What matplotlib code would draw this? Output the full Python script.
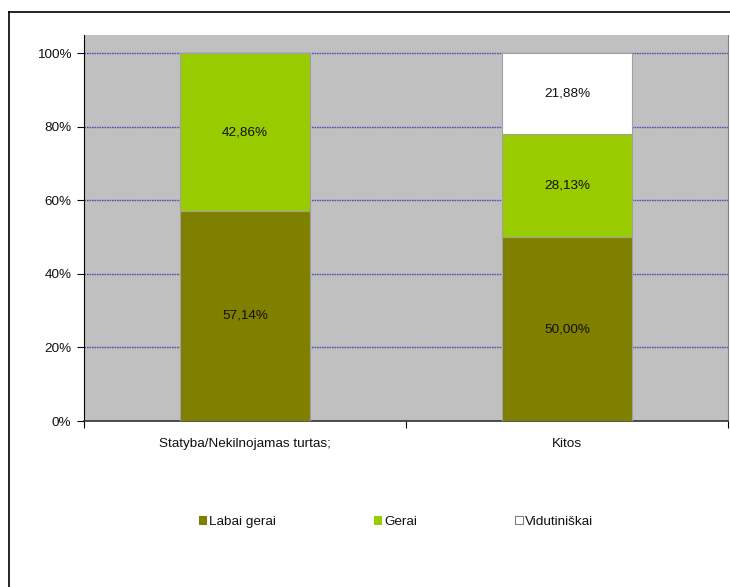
import matplotlib
matplotlib.use("Agg")
import matplotlib.pyplot as plt
from matplotlib.patches import Patch
from matplotlib.ticker import FuncFormatter
import numpy as np

plt.rcParams['font.family'] = ['Liberation Sans', 'DejaVu Sans']

categories = ["Statyba/Nekilnojamas turtas;", "Kitos"]
series_names = ["Labai gerai", "Gerai", "Vidutiniškai"]
labai_gerai = [57.14, 50.00]
gerai = [42.86, 28.13]
vidutiniskai = [0.0, 21.88]
series_values = [labai_gerai, gerai, vidutiniskai]
colors = ["#808000", "#99CC00", "#FFFFFF"]
yticks = [0, 20, 40, 60, 80, 100]

FS = 9.7

fig = plt.figure(figsize=(7.3, 5.87), dpi=100)
ax = fig.add_axes([84/730, 1-421/587, (728-84)/730, (421-35)/587])
ax.set_facecolor("#C0C0C0")

x = np.arange(len(categories))
bottom = np.zeros(len(categories))
for name, vals, col in zip(series_names, series_values, colors):
    vals = np.array(vals)
    ax.bar(x, vals, width=0.404, bottom=bottom, color=col, edgecolor="#A0A0A0",
           linewidth=0.8, zorder=3, label=name)
    for xi, b, v in zip(x, bottom, vals):
        if v > 0:
            ax.text(xi, b + v/2, f"{v:.2f}%".replace(".", ","), ha="center", va="center",
                    fontsize=FS, color="#111111", zorder=4)
    bottom += vals

ax.set_xlim(-0.5, 1.5)
ax.set_ylim(0, 105)
ax.set_yticks(yticks)
ax.yaxis.set_major_formatter(FuncFormatter(lambda v, p: f"{int(v)}%"))
ax.yaxis.grid(True, color="#5050B0", linestyle=(0, (1.2, 0.6)), linewidth=1.0, zorder=1)
ax.set_axisbelow(True)

ax.set_xticks([-0.5, 0.5, 1.5])
ax.set_xticklabels([])
ax.set_xticks(x, minor=True)
ax.set_xticklabels(categories, minor=True)
ax.tick_params(axis='x', which='minor', length=0, pad=12, labelsize=FS, colors="#111111")
ax.tick_params(axis='x', which='major', length=5, direction='out', width=0.8)
ax.tick_params(axis='y', length=5, direction='out', width=0.8, labelsize=FS, pad=4,
               labelcolor="#111111")

ax.spines['top'].set_visible(False)
ax.spines['right'].set_color("#808080")
ax.spines['left'].set_color("#000000")
ax.spines['bottom'].set_color("#333333")
ax.spines['left'].set_linewidth(0.8)
ax.spines['bottom'].set_linewidth(1.2)

handles = [Patch(facecolor=c, edgecolor=("#808080" if c == "#FFFFFF" else c), linewidth=0.8)
           for c in colors]
fig.legend(handles, series_names, loc="center", bbox_to_anchor=(396/730, 1-522/587),
           ncol=3, frameon=False, fontsize=FS, handlelength=0.55, handleheight=0.55,
           handletextpad=0.2, columnspacing=7.3, labelcolor="#111111")

# outer chart border (left and top visible)
fig.add_artist(plt.Line2D([9/730, 9/730], [0, 1-12/587], color="black", linewidth=1.2,
                          transform=fig.transFigure))
fig.add_artist(plt.Line2D([9/730, 1], [1-12/587, 1-12/587], color="black", linewidth=1.2,
                          transform=fig.transFigure))

fig.savefig("out.png", dpi=100)
